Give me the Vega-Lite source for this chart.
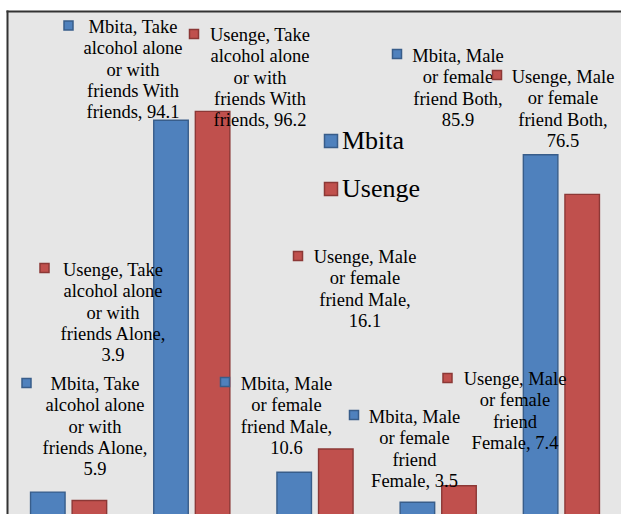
{
  "$schema": "https://vega.github.io/schema/vega-lite/v6.json",
  "width": 614,
  "height": 503,
  "autosize": {"type": "none"},
  "padding": {"left": 7, "top": 11, "right": 0, "bottom": 0},
  "background": "white",
  "config": {
    "view": {"fill": "#e6e6e6", "stroke": null},
    "font": "Liberation Serif, Times New Roman, DejaVu Serif, serif",
    "text": {"font": "Liberation Serif, Times New Roman, DejaVu Serif, serif", "fontSize": 18.5, "lineHeight": 21.3, "align": "center", "baseline": "alphabetic", "color": "black", "lineBreak": "\n"}
  },
  "data": {
    "values": [
      {"id": "Mbita|Alone", "cat": "Alone", "series": "Mbita", "value": 5.9, "label": "Mbita, Take\nalcohol alone\nor with\nfriends Alone,\n5.9"},
      {"id": "Usenge|Alone", "cat": "Alone", "series": "Usenge", "value": 3.9, "label": "Usenge, Take\nalcohol alone\nor with\nfriends Alone,\n3.9"},
      {"id": "Mbita|With", "cat": "With friends", "series": "Mbita", "value": 94.1, "label": "Mbita, Take\nalcohol alone\nor with\nfriends With\nfriends, 94.1"},
      {"id": "Usenge|With", "cat": "With friends", "series": "Usenge", "value": 96.2, "label": "Usenge, Take\nalcohol alone\nor with\nfriends With\nfriends, 96.2"},
      {"id": "Mbita|Male", "cat": "Male", "series": "Mbita", "value": 10.6, "label": "Mbita, Male\nor female\nfriend Male,\n10.6"},
      {"id": "Usenge|Male", "cat": "Male", "series": "Usenge", "value": 16.1, "label": "Usenge, Male\nor female\nfriend Male,\n16.1"},
      {"id": "Mbita|Female", "cat": "Female", "series": "Mbita", "value": 3.5, "label": "Mbita, Male\nor female\nfriend\nFemale, 3.5"},
      {"id": "Usenge|Female", "cat": "Female", "series": "Usenge", "value": 7.4, "label": "Usenge, Male\nor female\nfriend\nFemale, 7.4"},
      {"id": "Mbita|Both", "cat": "Both", "series": "Mbita", "value": 85.9, "label": "Mbita, Male\nor female\nfriend Both,\n85.9"},
      {"id": "Usenge|Both", "cat": "Both", "series": "Usenge", "value": 76.5, "label": "Usenge, Male\nor female\nfriend Both,\n76.5"}
    ]
  },
  "encoding": {
    "x": {
      "field": "cat", "type": "nominal",
      "sort": ["Alone", "With friends", "Male", "Female", "Both"],
      "scale": {"range": [0, 616], "paddingInner": 0, "paddingOuter": 0},
      "axis": {"orient": "top", "labels": false, "ticks": false, "title": null, "grid": false, "domain": true, "domainColor": "#333333", "domainWidth": 2, "domainCap": "square"}
    },
    "y": {
      "field": "value", "type": "quantitative",
      "scale": {"domain": [0.7, 120], "nice": false, "zero": false},
      "axis": {"labels": false, "ticks": false, "title": null, "grid": false, "domain": true, "domainColor": "#333333", "domainWidth": 2, "domainCap": "square"}
    },
    "color": {
      "field": "series", "type": "nominal",
      "scale": {"domain": ["Mbita", "Usenge"], "range": ["#4f81bd", "#c0504d"]},
      "legend": {
        "orient": "none", "legendX": 311, "legendY": 117, "title": null,
        "symbolType": "square", "symbolSize": 169, "symbolStrokeWidth": 1.5,
        "labelFont": "Liberation Serif, Times New Roman, DejaVu Serif, serif", "labelFontSize": 26, "labelColor": "black",
        "labelOffset": -2, "rowPadding": 22, "padding": 0, "offset": 0
      }
    },
    "stroke": {
      "field": "series", "type": "nominal",
      "scale": {"domain": ["Mbita", "Usenge"], "range": ["#385d8a", "#8c3836"]},
      "legend": {
        "orient": "none", "legendX": 311, "legendY": 117, "title": null,
        "symbolType": "square", "symbolSize": 169, "symbolStrokeWidth": 1.5,
        "labelFont": "Liberation Serif, Times New Roman, DejaVu Serif, serif", "labelFontSize": 26, "labelColor": "black",
        "labelOffset": -2, "rowPadding": 22, "padding": 0, "offset": 0
      }
    }
  },
  "layer": [
    {
      "mark": {"type": "bar", "strokeWidth": 1.4},
      "encoding": {
        "xOffset": {"field": "series", "type": "nominal", "scale": {"paddingInner": 0.17, "paddingOuter": 0.566}}
      }
    },
    {
      "transform": [{"filter": "datum.id == 'Mbita|With'"}],
      "layer": [
        {"mark": {"type": "text", "dx": -58.8, "dy": -87.2}, "encoding": {"text": {"field": "label"}, "color": {"value": "black"}, "stroke": {"value": null}}},
        {"mark": {"type": "point", "shape": "square", "filled": true, "size": 81, "strokeWidth": 1.5, "opacity": 1, "xOffset": -123.3, "yOffset": -94.7}}
      ]
    },
    {
      "transform": [{"filter": "datum.id == 'Usenge|With'"}],
      "layer": [
        {"mark": {"type": "text", "dx": 68.2, "dy": -70.3}, "encoding": {"text": {"field": "label"}, "color": {"value": "black"}, "stroke": {"value": null}}},
        {"mark": {"type": "point", "shape": "square", "filled": true, "size": 81, "strokeWidth": 1.5, "opacity": 1, "xOffset": 2.2, "yOffset": -77.3}}
      ]
    },
    {
      "transform": [{"filter": "datum.id == 'Mbita|Both'"}],
      "layer": [
        {"mark": {"type": "text", "dx": -103.4, "dy": -92.8}, "encoding": {"text": {"field": "label"}, "color": {"value": "black"}, "stroke": {"value": null}}},
        {"mark": {"type": "point", "shape": "square", "filled": true, "size": 81, "strokeWidth": 1.5, "opacity": 1, "xOffset": -164.4, "yOffset": -100.8}}
      ]
    },
    {
      "transform": [{"filter": "datum.id == 'Usenge|Both'"}],
      "layer": [
        {"mark": {"type": "text", "dx": 1.6, "dy": -111.4}, "encoding": {"text": {"field": "label"}, "color": {"value": "black"}, "stroke": {"value": null}}},
        {"mark": {"type": "point", "shape": "square", "filled": true, "size": 81, "strokeWidth": 1.5, "opacity": 1, "xOffset": -64.4, "yOffset": -119.4}}
      ]
    },
    {
      "transform": [{"filter": "datum.id == 'Usenge|Alone'"}],
      "layer": [
        {"mark": {"type": "text", "dx": 44.4, "dy": -224.5}, "encoding": {"text": {"field": "label"}, "color": {"value": "black"}, "stroke": {"value": null}}},
        {"mark": {"type": "point", "shape": "square", "filled": true, "size": 81, "strokeWidth": 1.5, "opacity": 1, "xOffset": -24.1, "yOffset": -232.5}}
      ]
    },
    {
      "transform": [{"filter": "datum.id == 'Mbita|Alone'"}],
      "layer": [
        {"mark": {"type": "text", "dx": 26.4, "dy": -102.1}, "encoding": {"text": {"field": "label"}, "color": {"value": "black"}, "stroke": {"value": null}}},
        {"mark": {"type": "point", "shape": "square", "filled": true, "size": 81, "strokeWidth": 1.5, "opacity": 1, "xOffset": -42.1, "yOffset": -109.1}}
      ]
    },
    {
      "transform": [{"filter": "datum.id == 'Mbita|Male'"}],
      "layer": [
        {"mark": {"type": "text", "dx": -28.5, "dy": -82.3}, "encoding": {"text": {"field": "label"}, "color": {"value": "black"}, "stroke": {"value": null}}},
        {"mark": {"type": "point", "shape": "square", "filled": true, "size": 81, "strokeWidth": 1.5, "opacity": 1, "xOffset": -90, "yOffset": -90.3}}
      ]
    },
    {
      "transform": [{"filter": "datum.id == 'Usenge|Male'"}],
      "layer": [
        {"mark": {"type": "text", "dx": 50, "dy": -186.1}, "encoding": {"text": {"field": "label"}, "color": {"value": "black"}, "stroke": {"value": null}}},
        {"mark": {"type": "point", "shape": "square", "filled": true, "size": 81, "strokeWidth": 1.5, "opacity": 1, "xOffset": -17, "yOffset": -193.1}}
      ]
    },
    {
      "transform": [{"filter": "datum.id == 'Mbita|Female'"}],
      "layer": [
        {"mark": {"type": "text", "dx": -23.7, "dy": -79.2}, "encoding": {"text": {"field": "label"}, "color": {"value": "black"}, "stroke": {"value": null}}},
        {"mark": {"type": "point", "shape": "square", "filled": true, "size": 81, "strokeWidth": 1.5, "opacity": 1, "xOffset": -84.2, "yOffset": -87.2}}
      ]
    },
    {
      "transform": [{"filter": "datum.id == 'Usenge|Female'"}],
      "layer": [
        {"mark": {"type": "text", "dx": 76.8, "dy": -100.75}, "encoding": {"text": {"field": "label"}, "color": {"value": "black"}, "stroke": {"value": null}}},
        {"mark": {"type": "point", "shape": "square", "filled": true, "size": 81, "strokeWidth": 1.5, "opacity": 1, "xOffset": 9.3, "yOffset": -107.75}}
      ]
    }
  ]
}
